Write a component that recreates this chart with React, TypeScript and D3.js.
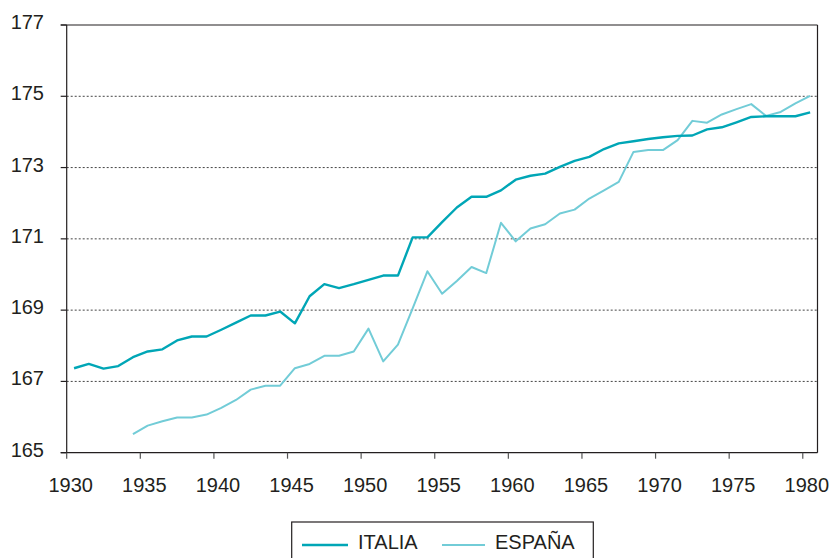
import * as d3 from 'd3';

const italiaStart = 1930;
const italia = [
  167.37, 167.49, 167.36, 167.43, 167.68, 167.84, 167.9, 168.15, 168.26, 168.26,
  168.45, 168.65, 168.85, 168.85, 168.96, 168.63, 169.39, 169.73, 169.62, 169.73,
  169.85, 169.97, 169.97, 171.04, 171.04, 171.47, 171.88, 172.18, 172.18, 172.36,
  172.66, 172.77, 172.83, 173.02, 173.19, 173.3, 173.52, 173.68, 173.74, 173.8,
  173.85, 173.89, 173.9, 174.07, 174.13, 174.27, 174.42, 174.44, 174.44, 174.44,
  174.55
];

const espanaStart = 1934;
const espana = [
  165.52, 165.76, 165.88, 165.99, 165.99, 166.07, 166.26, 166.48, 166.77, 166.88,
  166.88, 167.37, 167.49, 167.72, 167.72, 167.84, 168.48, 167.56, 168.03, 169.05,
  170.09, 169.46, 169.82, 170.21, 170.04, 171.45, 170.93, 171.29, 171.41, 171.71,
  171.82, 172.13, 172.36, 172.6, 173.44, 173.49, 173.49, 173.77, 174.31, 174.26,
  174.49, 174.64, 174.78, 174.45, 174.56, 174.8, 175.01
];

const xTicks = [1930, 1935, 1940, 1945, 1950, 1955, 1960, 1965, 1970, 1975, 1980];
const yTicks = [165, 167, 169, 171, 173, 175, 177];
const gridTicks = [167, 169, 171, 173, 175];

const series = [
  { name: 'ITALIA', start: italiaStart, values: italia, color: '#00a6b6', width: 2.4 },
  { name: 'ESPAÑA', start: espanaStart, values: espana, color: '#72ccd7', width: 2 }
];

const W = 830;
const H = 558;
const margin = { left: 66.7, right: 12.5, top: 25, bottom: 105.3 };
const font = '"Liberation Sans", Arial, sans-serif';

export default function App() {
  const x = d3
    .scaleLinear()
    .domain([1930, 1981])
    .range([margin.left, W - margin.right]);

  const y = d3
    .scaleLinear()
    .domain([165, 177])
    .range([H - margin.bottom, margin.top]);

  const line = d3
    .line<[number, number]>()
    .x(d => x(d[0] + 0.5))
    .y(d => y(d[1]));

  const x0 = x.range()[0];
  const x1 = x.range()[1];
  const yBottom = y(165);
  const yTop = y(177);

  return (
    <svg
      width={W}
      height={H}
      style={{ position: 'absolute', left: 0, top: 0, background: '#fff' }}
      fontFamily={font}
    >
      {/* dotted grid */}
      <g stroke="#444" strokeWidth={1} strokeDasharray="2 2">
        {gridTicks.map(t => (
          <line key={t} x1={x0} x2={x1} y1={y(t)} y2={y(t)} />
        ))}
      </g>

      {/* frame */}
      <g stroke="#231f20" strokeWidth={1.2} fill="none">
        <line x1={x0 - 6} x2={x1} y1={yTop} y2={yTop} />
        <line x1={x1} x2={x1} y1={yTop} y2={yBottom} />
        <line x1={x0} x2={x0} y1={yTop} y2={yBottom} />
        <line x1={x0 - 6} x2={x1} y1={yBottom} y2={yBottom} />
        {yTicks.map(t => (
          <line key={t} x1={x0 - 6} x2={x0} y1={y(t)} y2={y(t)} />
        ))}
        {xTicks.map(t => (
          <line key={t} x1={x(t)} x2={x(t)} y1={yBottom} y2={yBottom + 6} stroke="#555" />
        ))}
      </g>

      {/* y labels */}
      <g fontSize={20} fill="#231f20" textAnchor="end">
        {yTicks.map(t => (
          <text key={t} x={44} y={y(t) - 3} dy="0.35em">
            {t}
          </text>
        ))}
      </g>

      {/* x labels */}
      <g fontSize={20} fill="#231f20" textAnchor="middle">
        {xTicks.map(t => (
          <text key={t} x={x(t) + 4} y={yBottom + 32} dy="0.35em">
            {t}
          </text>
        ))}
      </g>

      {/* lines, spain under italia */}
      {[...series].reverse().map(s => (
        <path
          key={s.name}
          d={line(s.values.map((v, i) => [s.start + i, v] as [number, number])) || ''}
          fill="none"
          stroke={s.color}
          strokeWidth={s.width}
          strokeLinejoin="round"
        />
      ))}

      {/* legend */}
      <g>
        <rect x={291.7} y={522} width={301.6} height={50} fill="#fff" stroke="#231f20" strokeWidth={1.2} />
        <line x1={302} x2={348} y1={545} y2={545} stroke={series[0].color} strokeWidth={2.6} />
        <text x={358} y={542} dy="0.35em" fontSize={20} fill="#231f20">
          {series[0].name}
        </text>
        <line x1={442} x2={485} y1={545} y2={545} stroke={series[1].color} strokeWidth={2.2} />
        <text x={495} y={542} dy="0.35em" fontSize={20} fill="#231f20">
          {series[1].name}
        </text>
      </g>
    </svg>
  );
}
